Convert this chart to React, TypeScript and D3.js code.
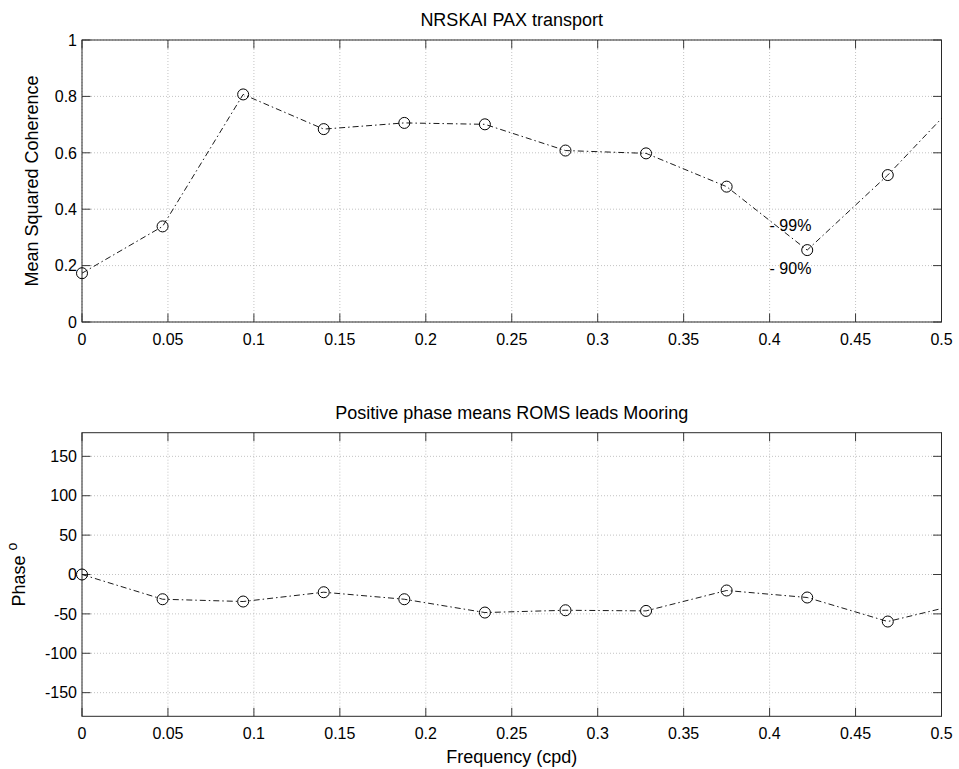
import React from "react";
import * as d3 from "d3";

const frequencies = [0, 0.046875, 0.09375, 0.140625, 0.1875, 0.234375, 0.28125, 0.328125, 0.375, 0.421875, 0.46875, 0.515625];
const coherence = [0.173, 0.339, 0.807, 0.684, 0.706, 0.701, 0.608, 0.598, 0.480, 0.255, 0.521, 0.822];
const phase = [0, -31.4, -34.3, -22.5, -31.4, -48.3, -45.4, -46.2, -20.3, -29.2, -59.7, -35];
const xTicks = [0, 0.05, 0.1, 0.15, 0.2, 0.25, 0.3, 0.35, 0.4, 0.45, 0.5];
const cohTicks = [0, 0.2, 0.4, 0.6, 0.8, 1];
const phaseTicks = [-150, -100, -50, 0, 50, 100, 150];
const sigLevels = [
  { label: "- 99%", value: 0.342 },
  { label: "- 90%", value: 0.189 },
];
const sigX = 0.4;

const FONT = "'Liberation Sans', Arial, Helvetica, sans-serif";

const W = 959;
const H = 769;
const left = 82;
const right = 941.5;

type PanelProps = {
  id: string;
  top: number;
  bottom: number;
  yDomain: [number, number];
  yTicks: number[];
  values: number[];
  title: string;
  titleY: number;
  yLabel: React.ReactNode;
  yLabelX: number;
  children?: (x: d3.ScaleLinear<number, number>, y: d3.ScaleLinear<number, number>) => React.ReactNode;
};

function Panel({ id, top, bottom, yDomain, yTicks, values, title, titleY, yLabel, yLabelX, children }: PanelProps) {
  const x = d3.scaleLinear().domain([0, 0.5]).range([left, right]);
  const y = d3.scaleLinear().domain(yDomain).range([bottom, top]);
  const pts = frequencies.map((f, i) => [f, values[i]] as [number, number]);
  const visible = pts.filter((p) => p[0] <= 0.5);
  const line = d3.line<[number, number]>().x((d) => x(d[0])).y((d) => y(d[1]));
  const tickLen = 8.5;
  const fmt = (v: number) => String(v);
  return (
    <g>
      <defs>
        <clipPath id={id}>
          <rect x={left} y={top} width={right - left} height={bottom - top} />
        </clipPath>
      </defs>
      <rect x={left} y={top} width={right - left} height={bottom - top} fill="#fff" />
      {xTicks.map((t) => (
        <line key={"gx" + t} x1={x(t)} x2={x(t)} y1={top} y2={bottom} stroke="#b4b4b4" strokeWidth={0.8} strokeDasharray="1,2" />
      ))}
      {yTicks.map((t) => (
        <line key={"gy" + t} x1={left} x2={right} y1={y(t)} y2={y(t)} stroke="#b4b4b4" strokeWidth={0.8} strokeDasharray="1,2" />
      ))}
      {xTicks.map((t) => (
        <g key={"tx" + t}>
          <line x1={x(t)} x2={x(t)} y1={bottom} y2={bottom - tickLen} stroke="#3a3a3a" strokeWidth={1} />
          <line x1={x(t)} x2={x(t)} y1={top} y2={top + tickLen} stroke="#3a3a3a" strokeWidth={1} />
          <text x={x(t)} y={bottom + 23} fontSize={16} textAnchor="middle" fontFamily={FONT} fill="#000">{fmt(t)}</text>
        </g>
      ))}
      {yTicks.map((t) => (
        <g key={"ty" + t}>
          <line x1={left} x2={left + tickLen} y1={y(t)} y2={y(t)} stroke="#3a3a3a" strokeWidth={1} />
          <line x1={right} x2={right - tickLen} y1={y(t)} y2={y(t)} stroke="#3a3a3a" strokeWidth={1} />
          <text x={left - 5} y={y(t)} dy="0.36em" fontSize={16} textAnchor="end" fontFamily={FONT} fill="#000">{fmt(t)}</text>
        </g>
      ))}
      <rect x={left} y={top} width={right - left} height={bottom - top} fill="none" stroke="#2a2a2a" strokeWidth={1} />
      <g clipPath={`url(#${id})`}>
        <path d={line(pts) || ""} fill="none" stroke="#000" strokeWidth={0.9} strokeDasharray="6,3,1.5,3" />
      </g>
      {visible.map((p, i) => (
        <circle key={i} cx={x(p[0])} cy={y(p[1])} r={5.5} fill="none" stroke="#000" strokeWidth={1} />
      ))}
      {children && children(x, y)}
      <text x={(left + right) / 2} y={titleY} fontSize={18} textAnchor="middle" fontFamily={FONT} fill="#000">{title}</text>
      <text transform={`translate(${yLabelX},${(top + bottom) / 2}) rotate(-90)`} fontSize={18} textAnchor="middle" fontFamily={FONT} fill="#000">{yLabel}</text>
    </g>
  );
}

export default function App() {
  return (
    <svg width={W} height={H} style={{ position: "absolute", left: 0, top: 0, background: "#fff" }}>
      <rect x={0} y={0} width={W} height={H} fill="#fff" />
      <Panel
        id="clipTop"
        top={40}
        bottom={322}
        yDomain={[0, 1]}
        yTicks={cohTicks}
        values={coherence}
        title="NRSKAI PAX transport"
        titleY={26}
        yLabel="Mean Squared Coherence"
        yLabelX={38}
      >
        {(x, y) =>
          sigLevels.map((s) => (
            <text key={s.label} x={x(sigX)} y={y(s.value)} dy="0.36em" fontSize={16} fontFamily={FONT} fill="#000">
              {s.label}
            </text>
          ))
        }
      </Panel>
      <Panel
        id="clipBottom"
        top={432.7}
        bottom={716.3}
        yDomain={[-180, 180]}
        yTicks={phaseTicks}
        values={phase}
        title="Positive phase means ROMS leads Mooring"
        titleY={418.5}
        yLabel={
          <>
            <tspan>Phase </tspan>
            <tspan fontSize={14} dy={-8}>o</tspan>
          </>
        }
        yLabelX={25}
      />
      <text x={(left + right) / 2} y={763} fontSize={18} textAnchor="middle" fontFamily={FONT} fill="#000">
        Frequency (cpd)
      </text>
    </svg>
  );
}
